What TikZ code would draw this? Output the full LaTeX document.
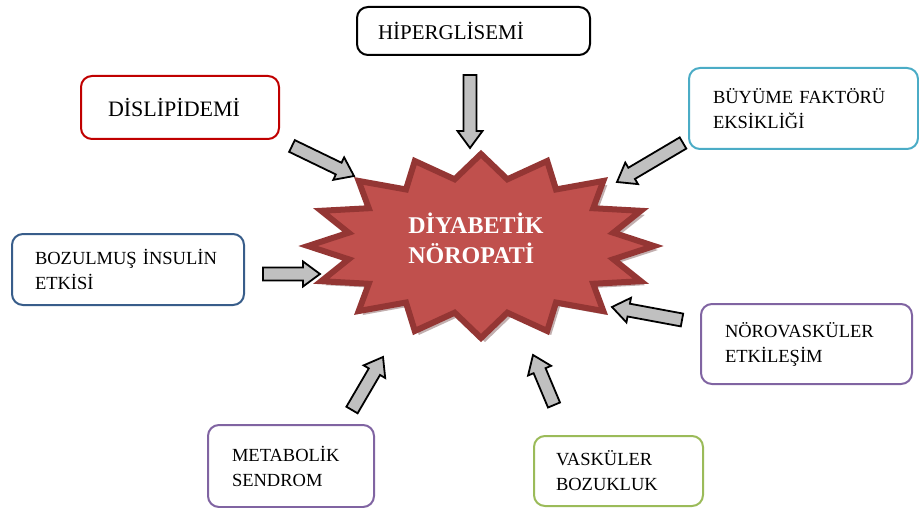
\documentclass[tikz,border=0pt]{standalone}
\usepackage{fontspec}
\setmainfont{Liberation Serif}
\usetikzlibrary{calc}
\definecolor{starfill}{HTML}{C0504D}
\definecolor{starline}{HTML}{943634}
\definecolor{starshade}{HTML}{9A7A7A}
\definecolor{arrowgray}{HTML}{C0C0C0}
\definecolor{boxred}{HTML}{C00000}
\definecolor{boxblue}{HTML}{385D8A}
\definecolor{boxteal}{HTML}{4BACC6}
\definecolor{boxpurple}{HTML}{8064A2}
\definecolor{boxgreen}{HTML}{9BBB59}
\tikzset{
  causebox/.style={draw, line width=2pt, rounded corners=11pt, anchor=north west,
    inner xsep=23pt, inner ysep=0pt, align=left, font=\fontsize{18.5}{25}\selectfont},
  blockarrow/.style={draw=black, fill=arrowgray, line width=1.8pt, line join=miter},
  startext/.style={align=left, text=white, font=\fontsize{24}{30}\selectfont\bfseries},
}
% block arrow from a tail coordinate to a tip coordinate
\newcommand{\blockarr}[2]{%
  \coordinate (ah) at ($(#2)!17pt!(#1)$);
  \draw[blockarrow] ($(#1)!6.5pt!90:(#2)$) -- ($(ah)!6.5pt!90:(#2)$)
    -- ($(ah)!12.5pt!90:(#2)$) -- (#2) -- ($(ah)!12.5pt!-90:(#2)$)
    -- ($(ah)!6.5pt!-90:(#2)$) -- ($(#1)!6.5pt!-90:(#2)$) -- cycle;}
\begin{document}
\begin{tikzpicture}[x=1pt,y=-1pt]
  \useasboundingbox (0,0) rectangle (919,508);
  % starburst
  \begin{scope}[shift={(485,250)}]
    \fill[starshade, opacity=.6] (0:173 and 92)
      \foreach \i [evaluate=\i as \rx using {mod(\i,2)==0 ? 173 : 135},
                   evaluate=\i as \ry using {mod(\i,2)==0 ? 92 : 68}] in {1,...,31}
      { -- ({\i*11.25}:{\rx} and {\ry}) } -- cycle;
  \end{scope}
  \begin{scope}[shift={(481,246)}]
    \draw[starline, fill=starfill, line width=6pt, line join=miter] (0:173 and 92)
      \foreach \i [evaluate=\i as \rx using {mod(\i,2)==0 ? 173 : 135},
                   evaluate=\i as \ry using {mod(\i,2)==0 ? 92 : 68}] in {1,...,31}
      { -- ({\i*11.25}:{\rx} and {\ry}) } -- cycle;
  \end{scope}
  \node[startext] (dp) at (476,238) {DİYABETİK\\NÖROPATİ};
  % causes
  \node[causebox, draw=black, inner xsep=21pt, text width=191pt, minimum height=48pt,
    font=\fontsize{21}{25}\selectfont] (hiper) at (356,6) {HİPERGLİSEMİ};
  \node[causebox, draw=boxred, inner xsep=27pt, text width=144pt, minimum height=63pt,
    font=\fontsize{22}{25}\selectfont] (dislip) at (80,75) {DİSLİPİDEMİ};
  \node[causebox, draw=boxteal, inner xsep=24pt, text width=181pt, minimum height=81pt]
    (buyume) at (688,67) {BÜYÜME FAKTÖRÜ\\EKSİKLİĞİ};
  \node[causebox, draw=boxblue, text width=186pt, minimum height=71pt]
    (bozul) at (11,233) {BOZULMUŞ İNSULİN\\ETKİSİ};
  \node[causebox, draw=boxpurple, inner xsep=24pt, text width=163pt, minimum height=80pt]
    (norov) at (700,303) {NÖROVASKÜLER\\ETKİLEŞİM};
  \node[causebox, draw=boxpurple, inner xsep=24pt, text width=118pt, minimum height=82pt]
    (metab) at (207,424) {METABOLİK\\SENDROM};
  \node[causebox, draw=boxgreen, inner xsep=22pt, text width=125pt, minimum height=70pt]
    (vask) at (533,435) {VASKÜLER\\BOZUKLUK};
  % arrow ends
  \coordinate (hiper-t) at (470,75);   \coordinate (hiper-h) at (470,148);
  \coordinate (dislip-t) at (292,146); \coordinate (dislip-h) at (354,176);
  \coordinate (buyume-t) at (683,143); \coordinate (buyume-h) at (617,182);
  \coordinate (bozul-t) at (263,274);  \coordinate (bozul-h) at (320,274);
  \coordinate (norov-t) at (682,320);  \coordinate (norov-h) at (612,307);
  \coordinate (metab-t) at (352,410);  \coordinate (metab-h) at (383,357);
  \coordinate (vask-t) at (554,405);   \coordinate (vask-h) at (533,355);
  \blockarr{hiper-t}{hiper-h}
  \blockarr{dislip-t}{dislip-h}
  \blockarr{buyume-t}{buyume-h}
  \blockarr{bozul-t}{bozul-h}
  \blockarr{norov-t}{norov-h}
  \blockarr{metab-t}{metab-h}
  \blockarr{vask-t}{vask-h}
\end{tikzpicture}
\end{document}
